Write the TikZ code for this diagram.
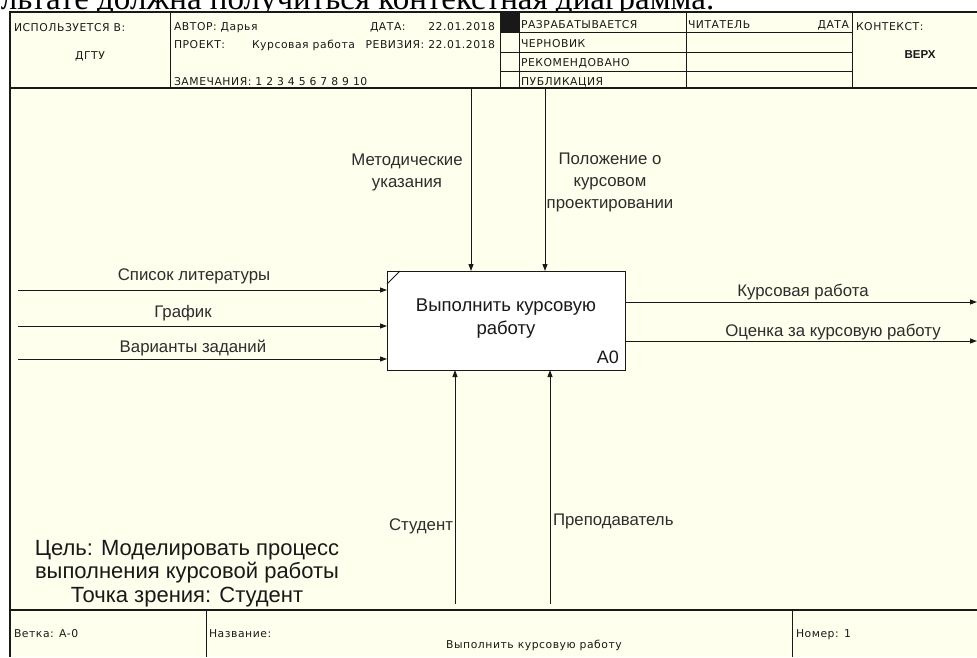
\documentclass[tikz,border=0pt]{standalone}
\usepackage{fontspec}
\setmainfont{Liberation Sans}
\newfontfamily\bodyserif{Liberation Serif}
\newfontfamily\formfont[LetterSpace=5]{DejaVu Sans}
\usetikzlibrary{arrows.meta,calc}
\definecolor{paper}{RGB}{255,255,238}
\definecolor{ink}{RGB}{25,25,25}
\definecolor{labelink}{RGB}{45,45,45}

\begin{document}
\begin{tikzpicture}[x=1pt,y=-1pt,
  every node/.style={inner sep=0pt, outer sep=0pt, text=ink},
  hdr/.style={font=\formfont\fontsize{10.8}{12}\selectfont, anchor=base west},
  lbl/.style={font=\fontsize{16.8}{22}\selectfont, text=labelink, anchor=base},
  flow/.style={draw=ink, line width=0.9pt, -{Triangle[length=7pt,width=5pt]}},
  framerule/.style={draw=ink, line width=1.3pt},
  cellrule/.style={draw=ink, line width=0.8pt},
]
\useasboundingbox (0,0) rectangle (977,657);
\fill[white] (0,0) rectangle (977,657);
\fill[paper] (10,12) rectangle (977,657);

% line of running text above the form, cut by the page edge
\begin{scope}
  \clip (0,0) rectangle (977,12);
  \node[anchor=base west, font=\bodyserif\fontsize{33}{36}\selectfont, text=black] (caption) at (1,9)
    {льтате должна получиться контекстная диаграмма.};
\end{scope}

% form frame
\draw[framerule] (10,657) -- (10,12) -- (977,12);
\draw[framerule] (10,88) -- (977,88);
\draw[framerule] (10,610) -- (977,610);

% header cells
\foreach \cx in {170,500,519,686,852} \draw[cellrule] (\cx,12) -- (\cx,88);
\foreach \ry in {32,52,71} \draw[cellrule] (500,\ry) -- (852,\ry);
\fill[ink] (500,12) rectangle (519,32);

% footer cells
\foreach \cx in {206,792} \draw[cellrule] (\cx,610) -- (\cx,657);

% header texts
\node[hdr] (usedin) at (14,31) {ИСПОЛЬЗУЕТСЯ В:};
\node[hdr, anchor=base] (org) at (90,59) {ДГТУ};
\node[hdr] (author) at (174,30) {АВТОР: Дарья};
\node[hdr] (datekey) at (370,30) {ДАТА:};
\node[hdr, anchor=base east] (dateval) at (495,30) {22.01.2018};
\node[hdr] (project) at (174,48) {ПРОЕКТ:};
\node[hdr] (projname) at (252,48) {Курсовая работа};
\node[hdr, anchor=base east] (revision) at (495,48) {РЕВИЗИЯ: 22.01.2018};
\node[hdr] (notes) at (174,85) {ЗАМЕЧАНИЯ: 1 2 3 4 5 6 7 8 9 10};
\node[hdr] (st1) at (521,28) {РАЗРАБАТЫВАЕТСЯ};
\node[hdr] (st2) at (521,47) {ЧЕРНОВИК};
\node[hdr] (st3) at (521,66) {РЕКОМЕНДОВАНО};
\node[hdr] (st4) at (521,85) {ПУБЛИКАЦИЯ};
\node[hdr] (reader) at (688,28) {ЧИТАТЕЛЬ};
\node[hdr, anchor=base east] (readerdate) at (849,28) {ДАТА};
\node[hdr] (context) at (856,30) {КОНТЕКСТ:};
\node[hdr, anchor=base, font=\bfseries\fontsize{11.5}{13}\selectfont] (top) at (920,58) {ВЕРХ};

% footer texts
\node[hdr] (branch) at (14,637) {Ветка: A-0};
\node[hdr] (titlekey) at (209,637) {Название:};
\node[hdr, anchor=base] (titleval) at (534,648) {Выполнить курсовую работу};
\node[hdr] (number) at (796,637) {Номер: 1};

% activity box
\node[draw=ink, fill=white, line width=0.9pt, minimum width=238pt, minimum height=99pt,
      anchor=north west] (box) at (387,271) {};
\draw[ink, line width=0.8pt] ($(box.north west)+(0,13)$) -- ($(box.north west)+(13,0)$);
\node[font=\fontsize{18.5}{23}\selectfont, align=center, anchor=base] (boxname) at (506,334)
  {Выполнить курсовую\\работу};
\node[font=\fontsize{18}{20}\selectfont, anchor=base east] (boxref) at (619,363) {A0};

% inputs
\coordinate (inA) at (18,290);
\coordinate (inB) at (18,326);
\coordinate (inC) at (18,359);
\foreach \c in {inA,inB,inC} \draw[flow] (\c) -- (\c -| box.west);
\node[lbl] (inAlbl) at (194,280) {Список литературы};
\node[lbl] (inBlbl) at (183,317) {График};
\node[lbl] (inClbl) at (193,352) {Варианты заданий};

% controls
\coordinate (ctlA) at (471,88);
\coordinate (ctlB) at (545,88);
\foreach \c in {ctlA,ctlB} \draw[flow] (\c) -- (\c |- box.north);
\node[lbl, align=center] (ctlAlbl) at (407,187) {Методические\\указания};
\node[lbl, align=center] (ctlBlbl) at (610,208) {Положение о\\курсовом\\проектировании};

% outputs
\coordinate (outA) at (977,302);
\coordinate (outB) at (977,341);
\foreach \c in {outA,outB} \draw[flow] (box.east |- \c) -- (\c);
\node[lbl] (outAlbl) at (803,296) {Курсовая работа};
\node[lbl] (outBlbl) at (833,336) {Оценка за курсовую работу};

% mechanisms
\coordinate (mecA) at (455,604);
\coordinate (mecB) at (550,604);
\foreach \c in {mecA,mecB} \draw[flow] (\c) -- (\c |- box.south);
\node[lbl, anchor=base east] (mecAlbl) at (453,530) {Студент};
\node[lbl, anchor=base west] (mecBlbl) at (553,525) {Преподаватель};

% purpose and viewpoint
\node[font=\fontsize{22}{23.5}\selectfont, align=center, anchor=base] (goal) at (187,602)
  {Цель: Моделировать процесс\\выполнения курсовой работы\\Точка зрения: Студент};
\end{tikzpicture}
\end{document}
